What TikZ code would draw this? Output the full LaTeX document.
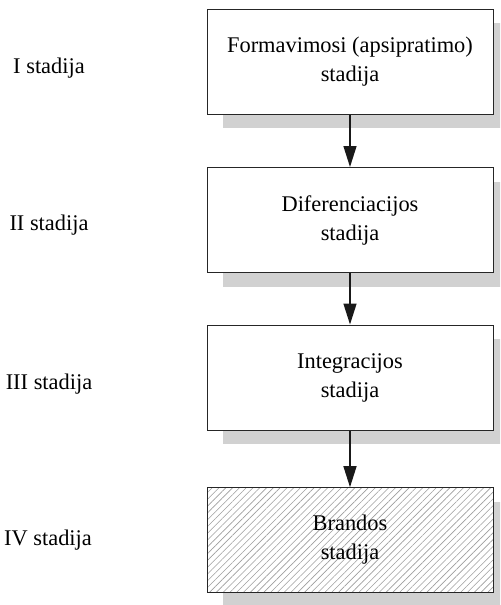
\documentclass[tikz,border=0pt]{standalone}
\usepackage{fontspec}
\setmainfont{Liberation Serif}
\usetikzlibrary{arrows.meta,shadows,patterns.meta}
\begin{document}
\begin{tikzpicture}[x=0.5pt,y=-0.5pt,
                        stadija/.style={draw=black!85, line width=0.5pt, fill=white,
                          minimum width=143pt, minimum height=52.5pt, align=center,
                          font=\fontsize{11.2}{14.5}\selectfont,
                          drop shadow={shadow xshift=8pt, shadow yshift=-7pt, fill=black!18, opacity=1}},
                        brandos/.style={stadija, preaction={fill=white},
                          pattern={Lines[angle=45, distance=2.4pt, line width=0.3pt]}, pattern color=black!38},
                        etikette/.style={anchor=base, font=\fontsize{11.2}{14.5}\selectfont},
                        pfeil/.style={-{Triangle[length=10.5pt, width=6.5pt]}, line width=0.7pt, black!90},
                        ]
                        %Rahmen
                        \useasboundingbox (0,0) rectangle (500,605);
                        \clip (0,0) rectangle (500,605);
                        %Stadijos
                        \node[stadija] (s1) at (350,61.5) {Formavimosi (apsipratimo)\\stadija};
                        \node[stadija] (s2) at (350,220) {Diferenciacijos\\stadija};
                        \node[stadija] (s3) at (350,377.5) {Integracijos\\stadija};
                        \node[brandos] (s4) at (350,540) {Brandos\\stadija};
                        %Pfeile
                        \draw [pfeil] (s1) -- (s2);
                        \draw [pfeil] (s2) -- (s3);
                        \draw [pfeil] (s3) -- (s4);
                        %Beschriftung links
                        \node[etikette] (l1) at (49,73) {I stadija};
                        \node[etikette] (l2) at (49,230) {II stadija};
                        \node[etikette] (l3) at (49,389) {III stadija};
                        \node[etikette] (l4) at (48,545) {IV stadija};
                \end{tikzpicture}
\end{document}
